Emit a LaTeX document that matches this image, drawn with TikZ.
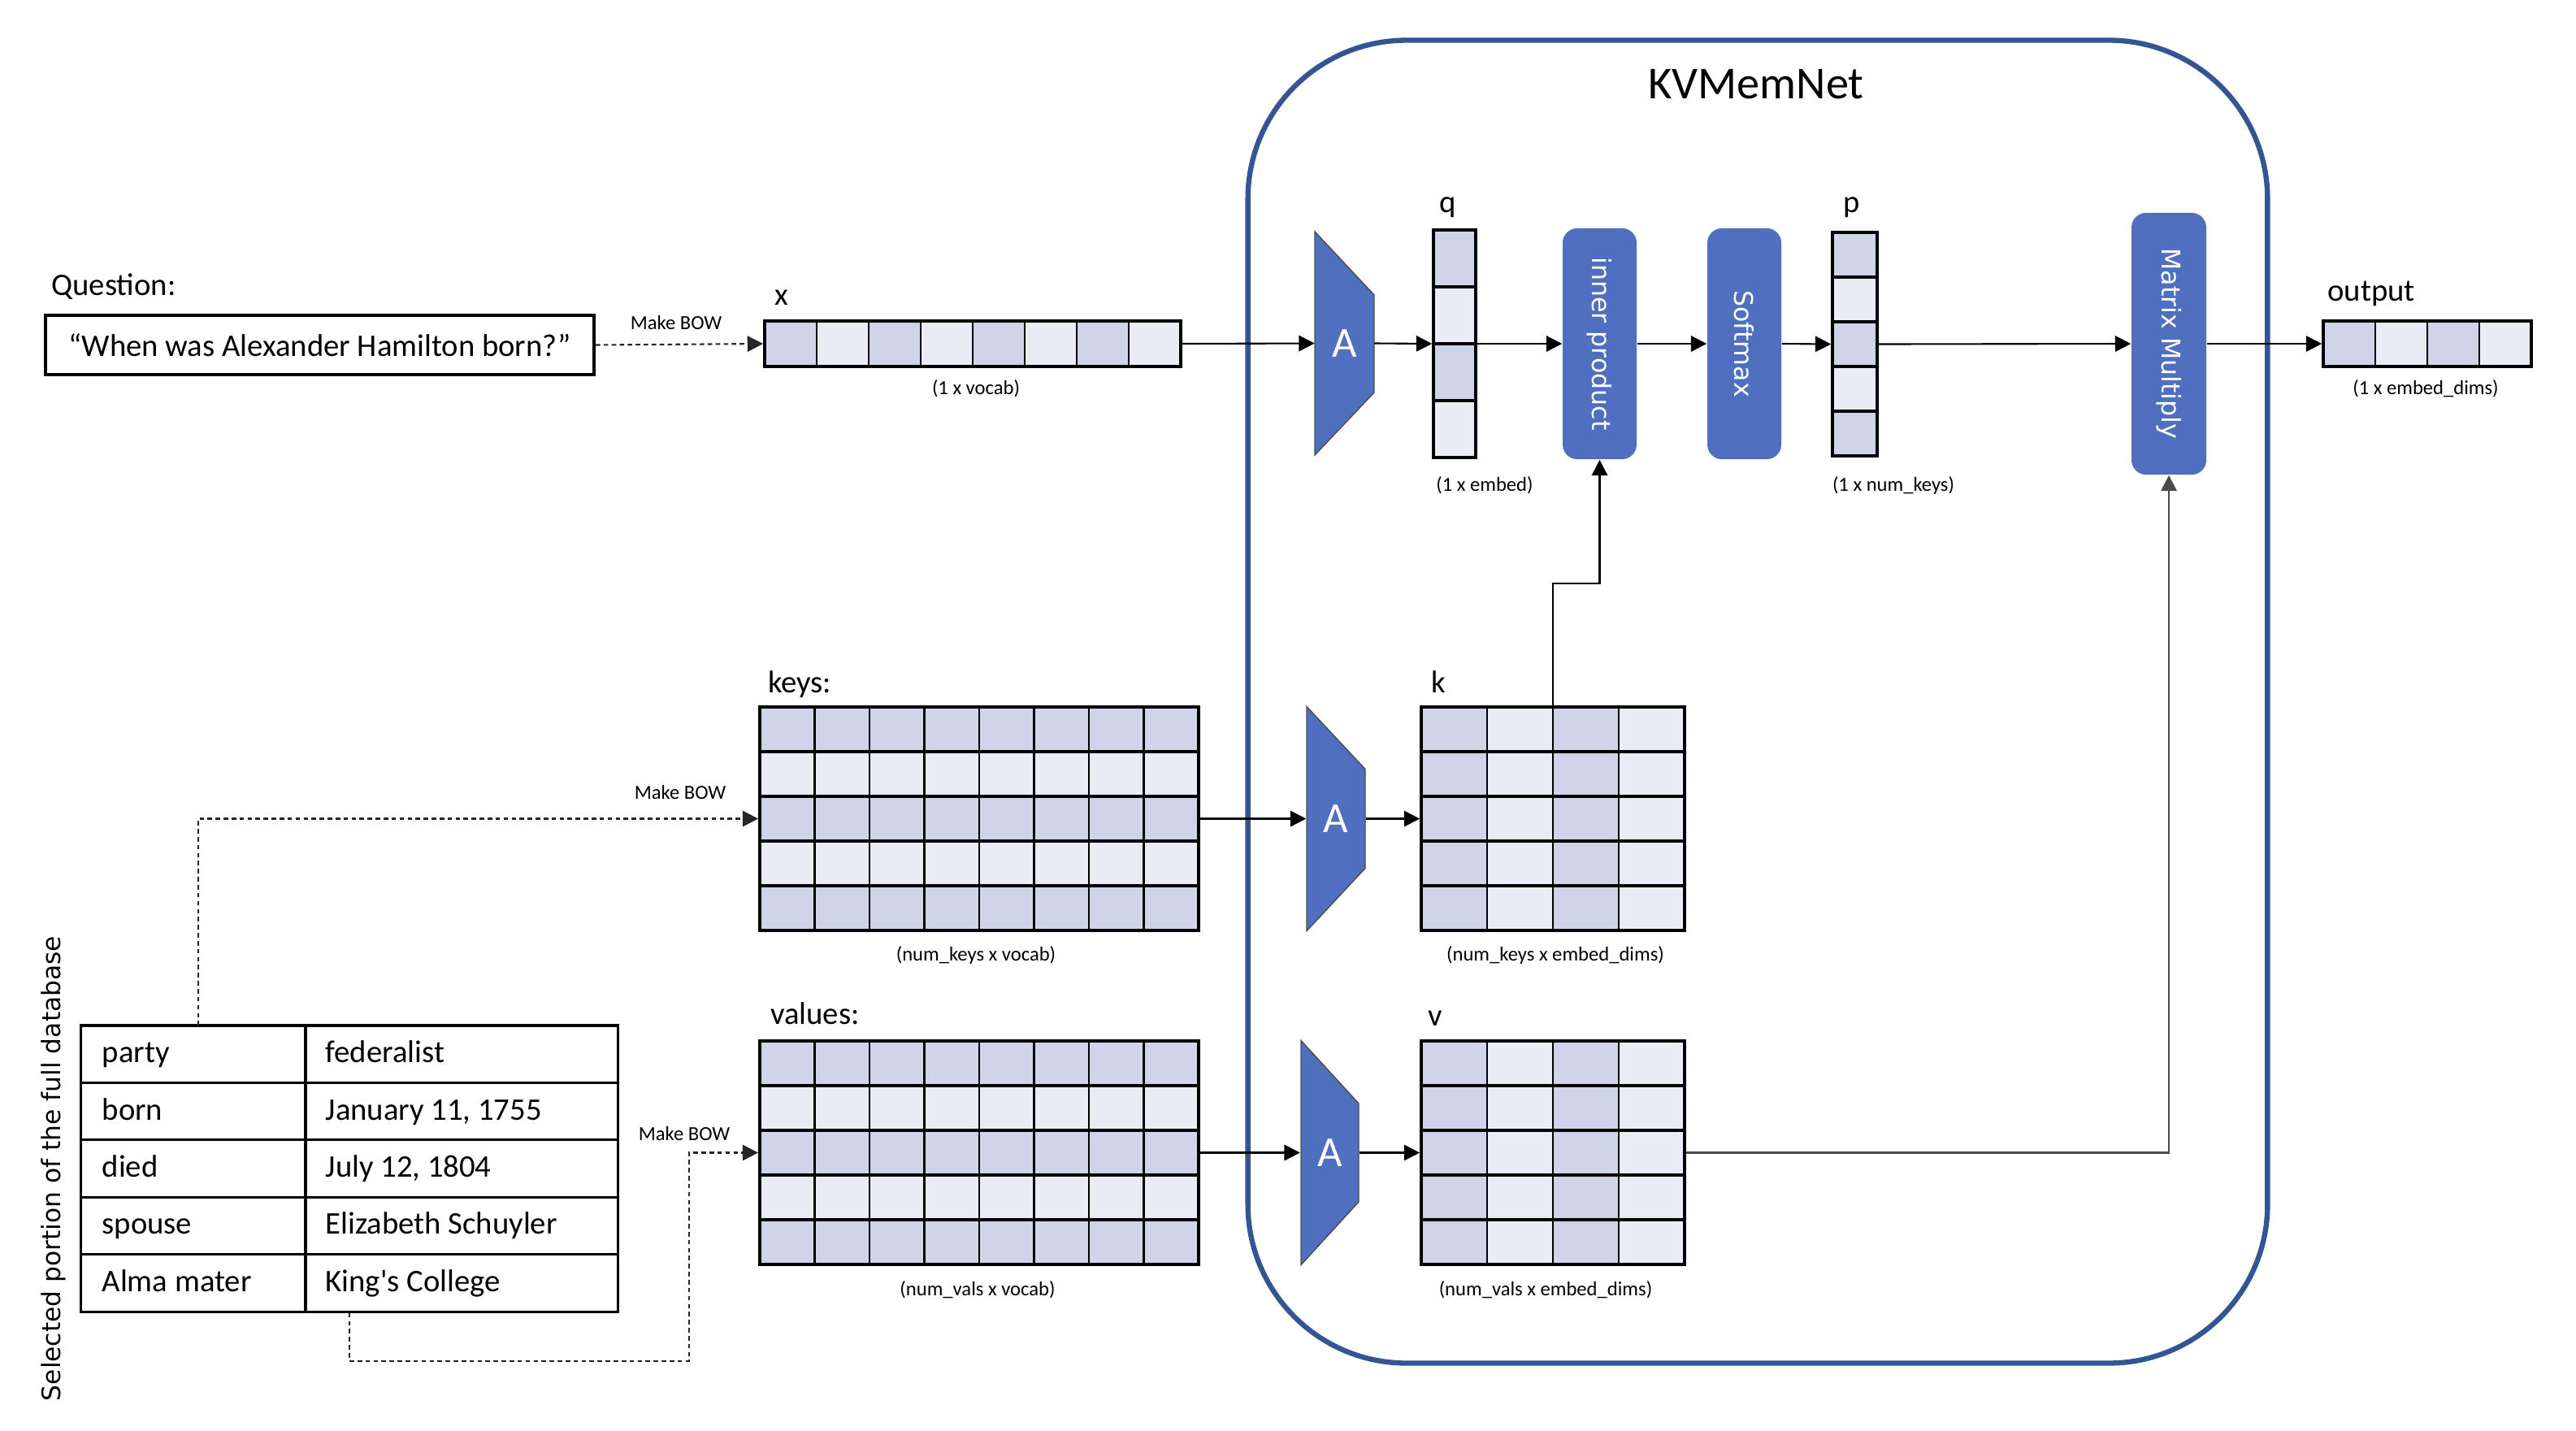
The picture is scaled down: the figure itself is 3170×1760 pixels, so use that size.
\documentclass[tikz,border=0pt]{standalone}
\usepackage{fontspec}
\setmainfont{Carlito}
\newfontfamily\dejavu{DejaVu Sans}
\usetikzlibrary{arrows.meta,calc}
\definecolor{kvblue}{RGB}{79,112,190}
\definecolor{kvframe}{RGB}{52,84,148}
\definecolor{cd}{RGB}{207,213,232}
\definecolor{cl}{RGB}{233,235,245}
\begin{document}
\begin{tikzpicture}[x=0.01cm,y=-0.01cm,
  thinline/.style={draw=black,line width=0.6pt},
  rowline/.style={draw=black,line width=1pt},
  outline/.style={draw=black,line width=1pt,inner sep=0pt,fill=none},
  conn/.style={draw=black,line width=0.6pt,-{Triangle[length=5.5pt,width=5.5pt]}},
  dots/.style={draw=black!85,line width=0.6pt,dash pattern=on 1.6pt off 1.2pt},
  dotarrow/.style={dots,-{Triangle[length=5.5pt,width=5.5pt]}},
  lbl/.style={inner sep=0pt,font=\fontsize{11}{13}\selectfont,text height=1.5ex,text depth=.25ex},
  small/.style={inner sep=0pt,font=\fontsize{7}{8}\selectfont},
  blk/.style={fill=kvblue,rounded corners=0.18cm,inner sep=0pt},
  blktext/.style={inner sep=0pt,text=white,rotate=-90,font=\dejavu\fontsize{9}{10}\selectfont},
  trap/.style={fill=kvblue,draw=black!70,line width=0.4pt},
  atext/.style={inner sep=0pt,text=white,font=\fontsize{15}{16}\selectfont,minimum width=0.72cm,minimum height=2.75cm},
  tabtext/.style={inner sep=0pt,anchor=west,font=\fontsize{11}{13}\selectfont,text height=1.5ex,text depth=.25ex}
]
\useasboundingbox (0,0) rectangle (3170,1760);

% ---------- KVMemNet frame ----------
\node[draw=kvframe,line width=1.8pt,rounded corners=1.95cm,minimum width=12.54cm,minimum height=16.27cm,inner sep=0pt] (kv) at (2163,863.5) {};
\node[inner sep=0pt,font=\fontsize{16}{18}\selectfont] (title) at (2161,104) {KVMemNet};

% ---------- Question ----------
\node[lbl] (qlabel) at (140,353) {Question:};
\node[draw=black,line width=1pt,minimum width=6.75cm,minimum height=0.73cm,inner sep=0pt,font=\fontsize{11}{13}\selectfont] (qbox) at (393.5,424.5) {“When was Alexander Hamilton born?”};

% ---------- x vector ----------
\foreach \i in {0,...,7}{\ifodd\i\def\cc{cl}\else\def\cc{cd}\fi
  \fill[\cc] (941+64*\i,395) rectangle ++(64,56);}
\foreach \i in {1,...,7}{\draw[thinline] (941+64*\i,395) -- ++(0,56);}
\node[outline,minimum width=5.12cm,minimum height=0.56cm] (xv) at (1197,423) {};
\node[lbl] (xlabel) at (962,365) {x};
\node[small] (xdim) at (1201,478) {(1 x vocab)};

% ---------- A1 ----------
\fill[trap] (1618,285) -- (1691,363) -- (1691,483) -- (1618,560) -- cycle;
\node[atext] (A1) at (1654.5,422.5) {A};

% ---------- q vector ----------
\foreach \i in {0,...,3}{\ifodd\i\def\cc{cl}\else\def\cc{cd}\fi
  \fill[\cc] (1764,283+70*\i) rectangle ++(52,70);}
\foreach \i in {1,...,3}{\draw[rowline] (1764,283+70*\i) -- ++(52,0);}
\node[outline,minimum width=0.52cm,minimum height=2.8cm] (qv) at (1790,423) {};
\node[lbl] (qlab) at (1782,251) {q};
\node[small] (qdim) at (1827,597) {(1 x embed)};

% ---------- blue boxes ----------
\node[blk,minimum width=0.91cm,minimum height=2.84cm] (ip) at (1968.5,423) {};
\node[blktext] (iptext) at (ip.center) {inner product};
\node[blk,minimum width=0.91cm,minimum height=2.84cm] (sm) at (2146.5,423) {};
\node[blktext] (smtext) at (sm.center) {Softmax};
\node[blk,minimum width=0.92cm,minimum height=3.22cm] (mm) at (2669,423) {};
\node[blktext] (mmtext) at (mm.center) {Matrix Multiply};

% ---------- p vector ----------
\foreach \i in {0,...,4}{\ifodd\i\def\cc{cl}\else\def\cc{cd}\fi
  \fill[\cc] (2255,286+55*\i) rectangle ++(55,55);}
\foreach \i in {1,...,4}{\draw[rowline] (2255,286+55*\i) -- ++(55,0);}
\node[outline,minimum width=0.55cm,minimum height=2.75cm] (pv) at (2282.5,423.5) {};
\node[lbl] (plab) at (2279,251) {p};
\node[small] (pdim) at (2330,597) {(1 x num\_keys)};

% ---------- output vector ----------
\foreach \i in {0,...,3}{\ifodd\i\def\cc{cl}\else\def\cc{cd}\fi
  \fill[\cc] (2859+64*\i,395) rectangle ++(64,56);}
\foreach \i in {1,...,3}{\draw[thinline] (2859+64*\i,395) -- ++(0,56);}
\node[outline,minimum width=2.56cm,minimum height=0.56cm] (ov) at (2987,423) {};
\node[lbl] (olab) at (2918,360) {output};
\node[small] (odim) at (2985,478) {(1 x embed\_dims)};

% ---------- keys matrix ----------
\foreach \r in {0,...,4}{\ifodd\r\def\cc{cl}\else\def\cc{cd}\fi
  \fill[\cc] (935,870+55*\r) rectangle ++(540,55);}
\foreach \c in {1,...,7}{\draw[thinline] (935+67.5*\c,870) -- ++(0,275);}
\foreach \r in {1,...,4}{\draw[rowline] (935,870+55*\r) -- ++(540,0);}
\node[outline,minimum width=5.4cm,minimum height=2.75cm] (keys) at (1205,1007.5) {};
\node[lbl] (keyslab) at (984,842) {keys:};
\node[small] (keysdim) at (1201,1175) {(num\_keys x vocab)};

% ---------- values matrix ----------
\foreach \r in {0,...,4}{\ifodd\r\def\cc{cl}\else\def\cc{cd}\fi
  \fill[\cc] (935,1281+55*\r) rectangle ++(540,55);}
\foreach \c in {1,...,7}{\draw[thinline] (935+67.5*\c,1281) -- ++(0,275);}
\foreach \r in {1,...,4}{\draw[rowline] (935,1281+55*\r) -- ++(540,0);}
\node[outline,minimum width=5.4cm,minimum height=2.75cm] (vals) at (1205,1418.5) {};
\node[lbl] (valslab) at (1003,1250) {values:};
\node[small] (valsdim) at (1203,1587) {(num\_vals x vocab)};

% ---------- A2, A3 ----------
\fill[trap] (1608,869.5) -- (1680,946.5) -- (1680,1068.5) -- (1608,1145.5) -- cycle;
\node[atext] (A2) at (1644,1007.5) {A};
\fill[trap] (1601,1280.5) -- (1672,1358) -- (1672,1479) -- (1601,1556.5) -- cycle;
\node[atext] (A3) at (1636.5,1418.5) {A};

% ---------- k matrix ----------
\foreach \c in {0,...,3}{\ifodd\c\def\cc{cl}\else\def\cc{cd}\fi
  \fill[\cc] (1749+81*\c,870) rectangle ++(81,275);}
\foreach \c in {1,...,3}{\draw[thinline] (1749+81*\c,870) -- ++(0,275);}
\foreach \r in {1,...,4}{\draw[rowline] (1749,870+55*\r) -- ++(324,0);}
\node[outline,minimum width=3.24cm,minimum height=2.75cm] (km) at (1911,1007.5) {};
\node[lbl] (klab) at (1770,842) {k};
\node[small] (kdim) at (1914,1175) {(num\_keys x embed\_dims)};

% ---------- v matrix ----------
\foreach \c in {0,...,3}{\ifodd\c\def\cc{cl}\else\def\cc{cd}\fi
  \fill[\cc] (1749+81*\c,1281) rectangle ++(81,275);}
\foreach \c in {1,...,3}{\draw[thinline] (1749+81*\c,1281) -- ++(0,275);}
\foreach \r in {1,...,4}{\draw[rowline] (1749,1281+55*\r) -- ++(324,0);}
\node[outline,minimum width=3.24cm,minimum height=2.75cm] (vm) at (1911,1418.5) {};
\node[lbl] (vlab) at (1766,1252) {v};
\node[small] (vdim) at (1902,1587) {(num\_vals x embed\_dims)};

% ---------- table ----------
\node[draw=black,line width=0.9pt,minimum width=6.6cm,minimum height=3.52cm,inner sep=0pt] (tab) at (430,1438) {};
\draw[line width=0.9pt] (376,1262) -- (376,1614);
\foreach \r in {1,...,4}{\draw[line width=0.9pt] (100,1262+70.4*\r) -- (760,1262+70.4*\r);}
\node[tabtext] (t1a) at (125,1297.2) {party};
\node[tabtext] (t1b) at (400,1297.2) {federalist};
\node[tabtext] (t2a) at (125,1367.6) {born};
\node[tabtext] (t2b) at (400,1367.6) {January 11, 1755};
\node[tabtext] (t3a) at (125,1438) {died};
\node[tabtext] (t3b) at (400,1438) {July 12, 1804};
\node[tabtext] (t4a) at (125,1508.4) {spouse};
\node[tabtext] (t4b) at (400,1508.4) {Elizabeth Schuyler};
\node[tabtext] (t5a) at (125,1578.8) {Alma mater};
\node[tabtext] (t5b) at (400,1578.8) {King\textquotesingle s College};
\node[inner sep=0pt,rotate=90,font=\dejavu\fontsize{8.9}{10}\selectfont] (dblab) at (66,1438) {Selected portion of the full database};

% ---------- connectors ----------
\draw[dotarrow] (qbox.east) -- (xv.west);
\node[small] (bow1) at (832,397) {Make BOW};
\coordinate (tabtop) at (244,1262);
\draw[dotarrow] (tabtop) |- (keys.west);
\node[small] (bow2) at (837,975) {Make BOW};
\coordinate (vj) at (848,1418.5);
\draw[dotarrow] (tab.south) -- ++(0,59) -| (vj) -- (vals.west);
\node[small] (bow3) at (842,1395) {Make BOW};

\draw[conn] (xv.east) -- (A1.west);
\draw[conn] (A1.east) -- (qv.west);
\draw[conn] (qv.east) -- (ip.west);
\draw[conn] (ip.east) -- (sm.west);
\draw[conn] (sm.east) -- (pv.west);
\draw[conn] (pv.east) -- (mm.west);
\draw[conn] (mm.east) -- (ov.west);
\draw[conn] (keys.east) -- (A2.west);
\draw[conn] (A2.east) -- (km.west);
\draw[conn] (vals.east) -- (A3.west);
\draw[conn] (A3.east) -- (vm.west);
\coordinate (jog) at (1911,718);
\draw[conn] (km.north) -- (jog) -| (ip.south);
\draw[conn,draw=black!70] (vm.east) -| (mm.south);
\end{tikzpicture}
\end{document}
